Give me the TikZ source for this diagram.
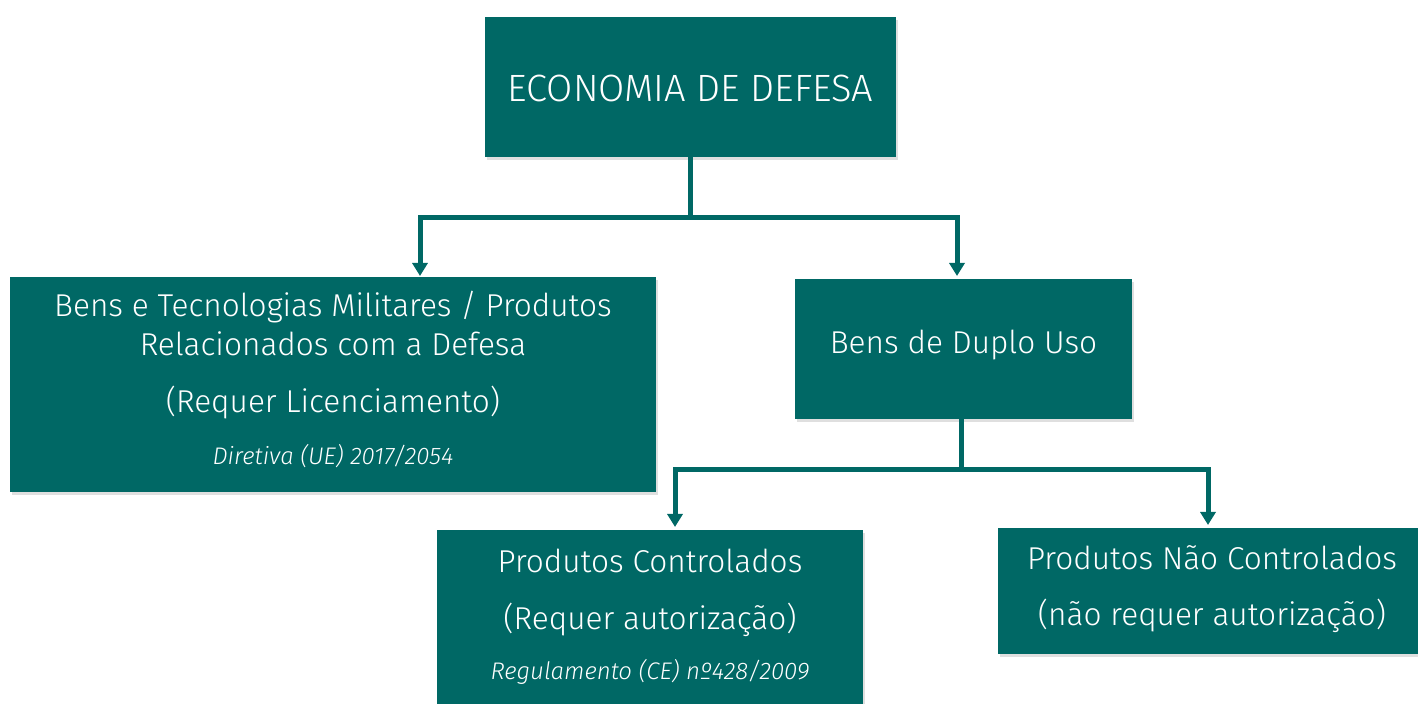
\documentclass[tikz,border=0pt]{standalone}
\usepackage{fontspec}
\IfFontExistsTF{Fira Sans Light}{\setmainfont{Fira Sans Light}[ItalicFont={Fira Sans Light Italic}]}{\setmainfont{Fira Sans}}
\usetikzlibrary{arrows.meta,shadows}
\definecolor{teal}{RGB}{0,104,101}
\tikzset{
  box/.style={fill=teal, draw=none, inner sep=0pt,
    drop shadow={opacity=0.25, shadow xshift=1pt, shadow yshift=-1.5pt}},
  lbl/.style={text=white, inner sep=0pt, anchor=center},
  main/.style={lbl, font=\fontsize{15.8}{18}\selectfont},
  ref/.style={lbl, font=\fontsize{12}{14}\selectfont\itshape},
  conn/.style={draw=teal, line width=2.5pt},
  arr/.style={conn, -{Triangle[width=7.5pt,length=6.5pt]}},
}
\begin{document}
\begin{tikzpicture}[x=0.5pt,y=-0.5pt]
\useasboundingbox (0,0) rectangle (1418,704);
% boxes
\node[box, minimum width=205.5pt, minimum height=70pt] (top) at (690.5,87) {};
\node[box, minimum width=323pt, minimum height=107.5pt] (left) at (333,384.5) {};
\node[box, minimum width=168.5pt, minimum height=70pt] (duplo) at (963.5,349) {};
\node[box, minimum width=213pt, minimum height=90pt] (ctrl) at (650,620) {};
\node[box, minimum width=210pt, minimum height=63pt] (nctrl) at (1208,591) {};
% texts
\node[lbl, font=\fontsize{19}{22}\selectfont] (t0) at (690.5,88) {ECONOMIA DE DEFESA};
\node[main] (t1) at (333,307) {Bens e Tecnologias Militares / Produtos};
\node[main] (t2) at (333,344) {Relacionados com a Defesa};
\node[main] (t3) at (333,403) {(Requer Licenciamento)};
\node[ref] (t4) at (333,456) {Diretiva (UE) 2017/2054};
\node[main] (t5) at (963.5,345) {Bens de Duplo Uso};
\node[main] (t6) at (650,561) {Produtos Controlados};
\node[main] (t7) at (650,620) {(Requer autorização)};
\node[ref] (t8) at (650,672) {Regulamento (CE) nº428/2009};
\node[main] (t9) at (1212,558) {Produtos Não Controlados};
\node[main] (t10) at (1212,616) {(não requer autorização)};
% connectors
\coordinate (j1) at (690,218);
\coordinate (a1) at (420,276);
\coordinate (a2) at (957,276);
\draw[conn] (top.south -| j1) -- ([yshift=-1.25pt]j1);
\draw[arr] (j1) -| (a1);
\draw[arr] (j1) -| (a2);
\coordinate (j2) at (961,470);
\coordinate (a3) at (675,527);
\coordinate (a4) at (1208,525);
\draw[conn] (duplo.south -| j2) -- ([yshift=-1.25pt]j2);
\draw[arr] (j2) -| (a3);
\draw[arr] (j2) -| (a4);
\end{tikzpicture}
\end{document}
